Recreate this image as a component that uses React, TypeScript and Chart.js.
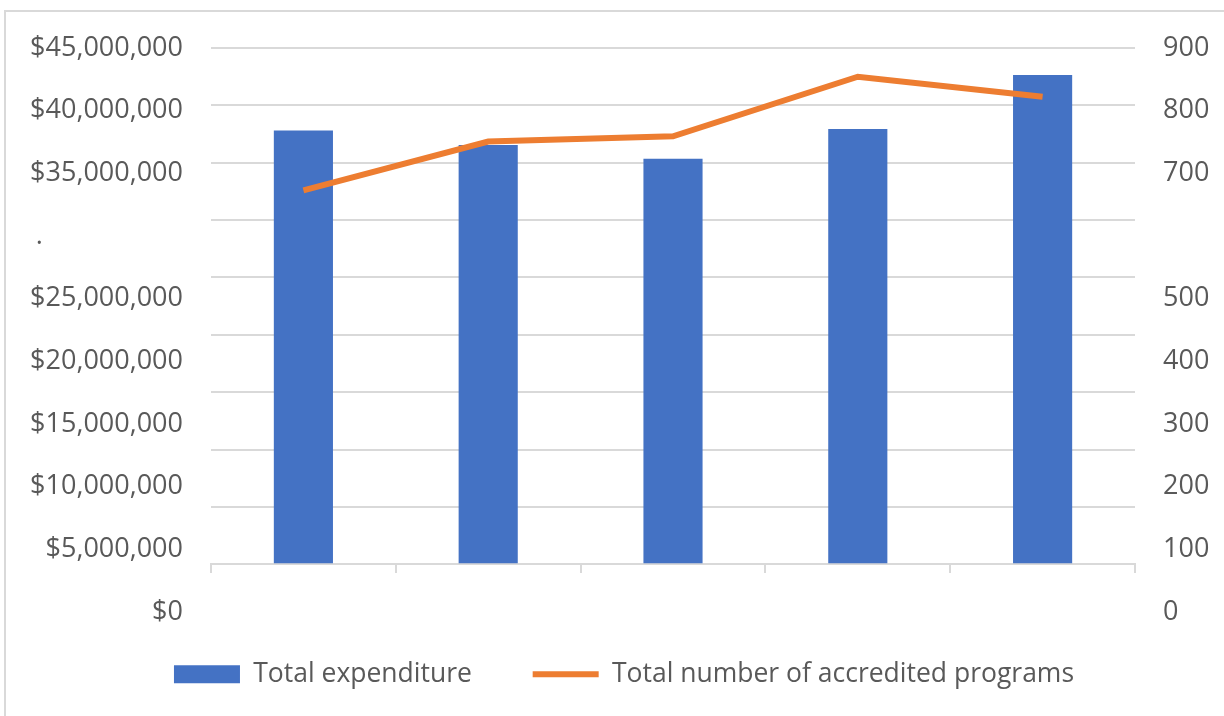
import { useEffect, useRef } from 'react';
import { Chart, registerables } from 'chart.js';

Chart.register(...registerables);

const categories = ['Year 1', 'Year 2', 'Year 3', 'Year 4', 'Year 5'];
const totalExpenditure = [37800000, 36550000, 35350000, 37950000, 42650000];
const accreditedPrograms = [652, 737, 746, 850, 815];
const leftTickLabels = [
  '$0', '$5,000,000', '$10,000,000', '$15,000,000', '$20,000,000',
  '$25,000,000', '.', '$35,000,000', '$40,000,000', '$45,000,000',
];
const rightTickLabels = ['0', '100', '200', '300', '400', '500', '', '700', '800', '900'];
const leftStep = 5000000;
const leftMax = 45000000;
const rightStep = 100;
const rightMax = 900;

export default function App() {
  const ref = useRef<HTMLCanvasElement>(null);

  useEffect(() => {
    const canvas = ref.current;
    if (!canvas) return;
    const font = { family: "'Open Sans', sans-serif", size: 27 };
    const legendFont = { family: "'Open Sans', sans-serif", size: 26.5 };
    const grey = '#595959';
    const gridColor = '#d9d9d9';
    const chart = new Chart(canvas, {
      data: {
        labels: categories,
        datasets: [
          {
            type: 'bar',
            label: 'Total expenditure',
            data: totalExpenditure,
            backgroundColor: '#4472C4',
            borderWidth: 0,
            yAxisID: 'y',
            barPercentage: 0.32,
            categoryPercentage: 1,
            order: 1,
            pointStyle: 'rect',
          } as any,
          {
            type: 'line',
            label: 'Total number of accredited programs',
            data: accreditedPrograms,
            borderColor: '#ED7D31',
            backgroundColor: '#ED7D31',
            borderWidth: 6,
            pointRadius: 0,
            pointHoverRadius: 0,
            pointBorderWidth: 6,
            pointBorderColor: '#ED7D31',
            pointBackgroundColor: '#ED7D31',
            tension: 0,
            yAxisID: 'y1',
            order: 0,
            pointStyle: 'line',
          } as any,
        ],
      },
      options: {
        responsive: false,
        animation: false,
        layout: { padding: { left: 24, top: 48, right: 0, bottom: 18.5 } },
        plugins: {
          tooltip: { enabled: false },
          legend: {
            position: 'bottom',
            labels: {
              usePointStyle: true,
              pointStyleWidth: 66,
              boxHeight: 18,
              padding: 47,
              color: grey,
              font: legendFont,
              sort: (a: any, b: any) => a.datasetIndex - b.datasetIndex,
              generateLabels: (c: any) => {
                const items = (Chart as any).defaults.plugins.legend.labels.generateLabels(c);
                items.forEach((it: any) => {
                  if (it.datasetIndex === 0) it.text = it.text + '  ';
                });
                return items;
              },
            },
          },
        },
        scales: {
          x: {
            type: 'category',
            position: { y: 0 } as any,
            offset: true,
            grid: {
              display: true,
              drawOnChartArea: false,
              drawTicks: true,
              tickLength: 8,
              color: gridColor,
              lineWidth: 2,
              offset: true,
            },
            border: { display: true, color: gridColor, width: 2 },
            ticks: { display: false },
          },
          xpad: {
            type: 'category',
            position: 'bottom',
            grid: { display: false, drawTicks: false },
            border: { display: false },
            ticks: { display: false },
            afterFit: (s: any) => {
              s.height = 2;
            },
          },
          y: {
            type: 'linear',
            position: 'left',
            weight: 0,
            min: -4160000,
            max: leftMax,
            ticks: { display: false },
            afterBuildTicks: (s: any) => {
              const t: any[] = [];
              for (let v = 0; v <= leftMax; v += leftStep) t.push({ value: v });
              s.ticks = t;
            },
            grid: {
              color: gridColor,
              lineWidth: 2,
              drawTicks: false,
            },
            border: { display: false },
            afterFit: (s: any) => {
              s.width = 0;
            },
          },
          yl: {
            type: 'linear',
            position: 'left',
            weight: 1,
            min: 0,
            max: leftMax,
            afterBuildTicks: (s: any) => {
              const t: any[] = [];
              for (let v = 0; v <= leftMax; v += leftStep) t.push({ value: v });
              s.ticks = t;
            },
            ticks: {
              autoSkip: false,
              padding: 28,
              color: grey,
              font,
              callback: (_v: any, i: number) => {
                const t = leftTickLabels[i];
                return t === '.' ? t + ' '.repeat(20) : t;
              },
            },
            grid: { display: false, drawTicks: false },
            border: { display: false },
            afterFit: (s: any) => {
              s.width = 187;
            },
          },
          y1: {
            type: 'linear',
            position: 'right',
            display: false,
            min: -83,
            max: rightMax,
          },
          yr: {
            type: 'linear',
            position: 'right',
            weight: 1,
            min: 0,
            max: rightMax,
            afterBuildTicks: (s: any) => {
              const t: any[] = [];
              for (let v = 0; v <= rightMax; v += rightStep) t.push({ value: v });
              s.ticks = t;
            },
            ticks: {
              autoSkip: false,
              padding: 28,
              color: grey,
              font,
              callback: (_v: any, i: number) => rightTickLabels[i],
            },
            grid: { display: false, drawTicks: false },
            border: { display: false },
            afterFit: (s: any) => {
              s.width = 89;
            },
          },
        } as any,
      },
    } as any);
    return () => chart.destroy();
  }, []);

  return (
    <div style={{ position: 'fixed', left: 0, top: 0, width: 1224, height: 716, background: '#fff', overflow: 'hidden' }}>
      <div
        style={{
          position: 'absolute',
          left: 4,
          top: 10,
          width: 1240,
          height: 730,
          border: '2px solid #d9d9d9',
          boxSizing: 'border-box',
        }}
      />
      <canvas ref={ref} width={1224} height={716} style={{ position: 'absolute', left: 0, top: 0, width: 1224, height: 716 }} />
    </div>
  );
}
